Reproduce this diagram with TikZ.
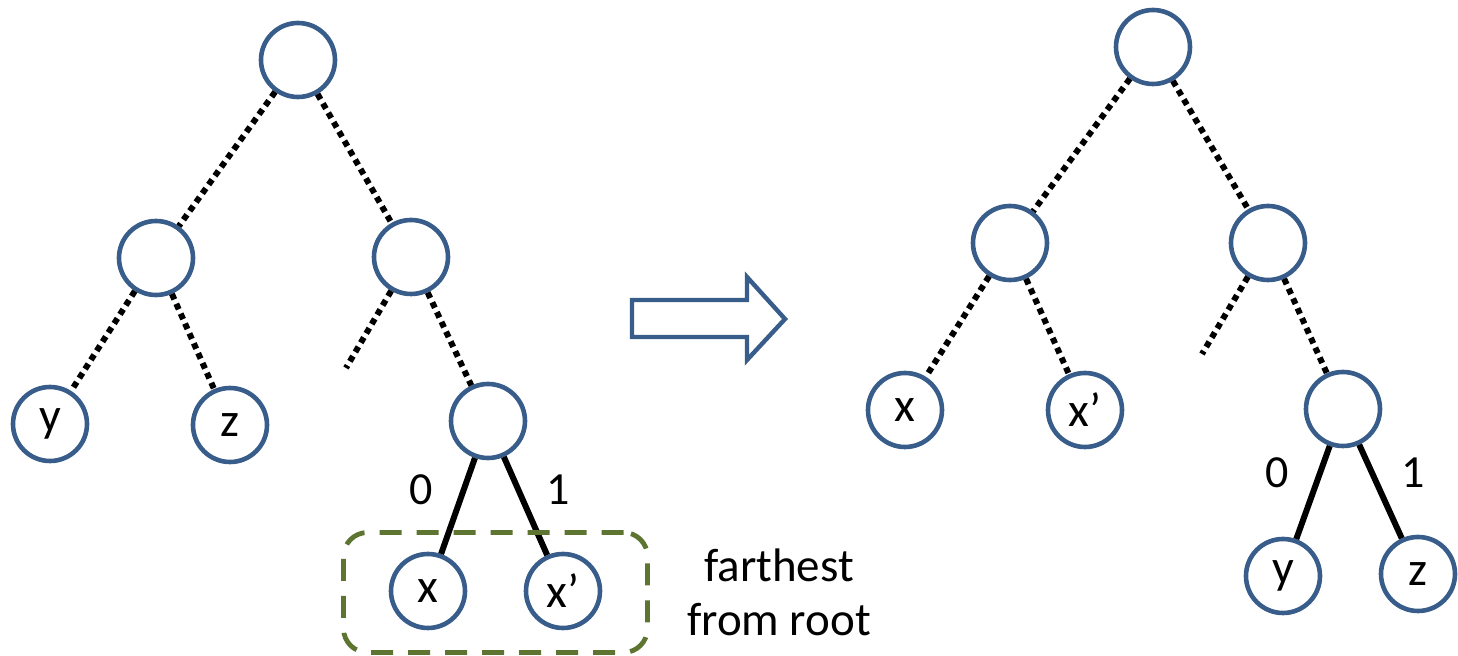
\documentclass[tikz,border=0pt]{standalone}
\usepackage{fontspec}
\setmainfont{Carlito}
\definecolor{nodeblue}{RGB}{56,93,138}
\definecolor{boxgreen}{RGB}{94,117,50}
\begin{document}
\begin{tikzpicture}[x=0.5pt,y=-0.5pt,
  tn/.style={circle, draw=nodeblue, line width=2.3pt, minimum size=37pt, inner sep=0pt, font=\fontsize{24}{28}\selectfont},
  dotedge/.style={line width=3pt, dash pattern=on 3pt off 2.4pt},
  solidedge/.style={line width=3pt},
  bitlbl/.style={font=\fontsize{23}{27}\selectfont},
  sidetext/.style={font=\fontsize{23.5}{29}\selectfont, align=center}]
\useasboundingbox (0,0) rectangle (1458,656);
% left tree
\node[tn] (r) at (298,60) {};
\node[tn] (a) at (156,258) {};
\node[tn] (b) at (411,257) {};
\node[tn] (y) at (50,424) {y};
\node[tn] (z) at (230,425) {z};
\node[tn] (d) at (488,421) {};
\node[tn] (x) at (428,591) {x};
\node[tn] (xp) at (563,591) {x’};
\coordinate (s1) at (346,368);
\draw[dotedge] (r) -- (a);
\draw[dotedge] (r) -- (b);
\draw[dotedge] (a) -- (y);
\draw[dotedge] (a) -- (z);
\draw[dotedge] (b) -- (d);
\draw[dotedge] (b) -- (s1);
\draw[solidedge] (d) -- (x);
\draw[solidedge] (d) -- (xp);
\node[bitlbl] (l0) at (421,490) {0};
\node[bitlbl] (l1) at (558,490) {1};
\node[draw=boxgreen, line width=2.4pt, dash pattern=on 11pt off 7.5pt, rounded corners=12pt, minimum width=152pt, minimum height=60pt] (box) at (495.5,592.5) {};
\node[sidetext] (ft) at (779,592) {farthest\\[-2pt]from root};
% arrow
\draw[nodeblue, line width=2.2pt] (632,300) coordinate (ar) -- (747,300) -- (747,277) -- (785,319) -- (747,360) -- (747,337) -- (632,337) -- cycle;
% right tree
\node[tn] (R) at (1153,47) {};
\node[tn] (A) at (1010,243) {};
\node[tn] (B) at (1268,243) {};
\node[tn] (X) at (905,410) {x};
\node[tn] (XP) at (1085,410) {x’};
\node[tn] (D) at (1343,409) {};
\node[tn] (Y) at (1283,576) {y};
\node[tn] (Z) at (1418,574) {z};
\coordinate (s2) at (1202,354);
\draw[dotedge] (R) -- (A);
\draw[dotedge] (R) -- (B);
\draw[dotedge] (A) -- (X);
\draw[dotedge] (A) -- (XP);
\draw[dotedge] (B) -- (D);
\draw[dotedge] (B) -- (s2);
\draw[solidedge] (D) -- (Y);
\draw[solidedge] (D) -- (Z);
\node[bitlbl] (L0) at (1277,473) {0};
\node[bitlbl] (L1) at (1413,473) {1};
\end{tikzpicture}
\end{document}
